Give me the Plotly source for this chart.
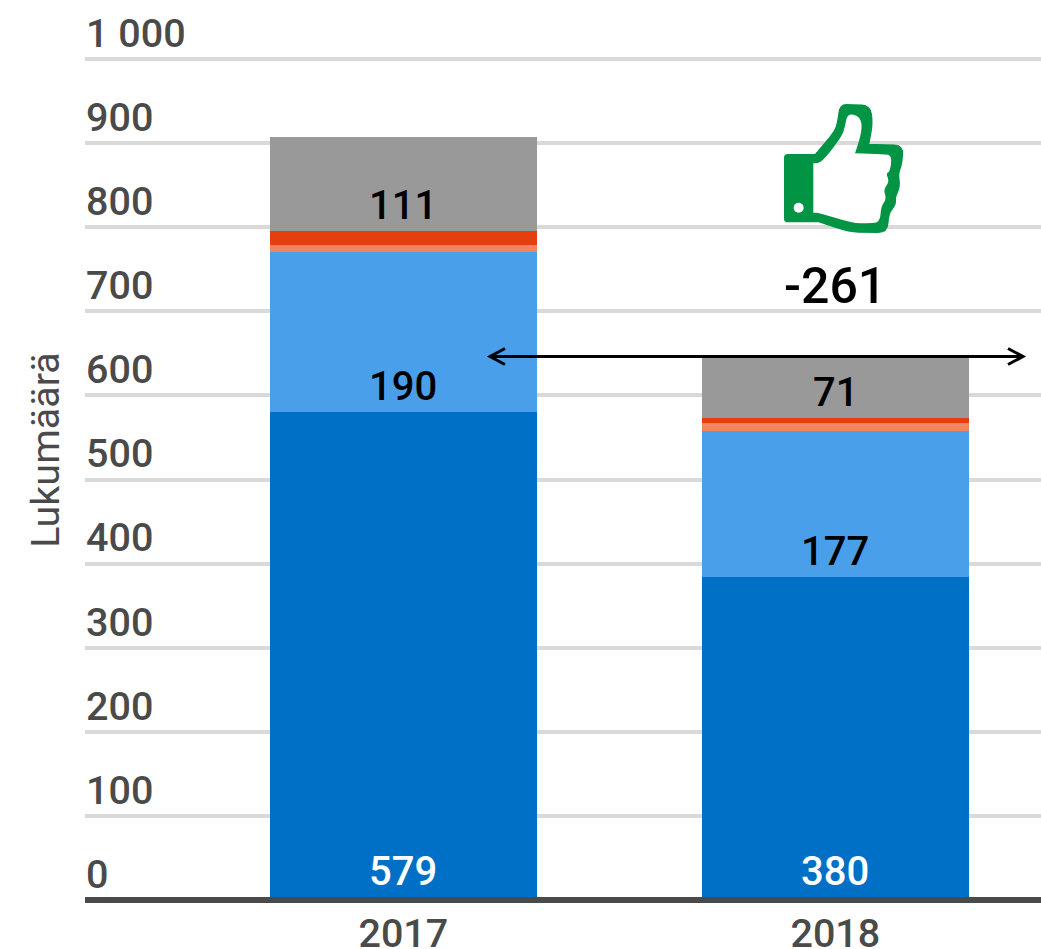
import plotly.graph_objects as go

years = ["2017", "2018"]
seg_a = [580, 384]
seg_b = [191, 174]
seg_c = [8, 9]
seg_d = [16, 6]
seg_e = [112, 73]
label_a = ["579", "380"]
label_b = ["190", "177"]
label_e = ["111", "71"]
series = [seg_a, seg_b, seg_c, seg_d, seg_e]
colors = ["#0070c6", "#4a9fea", "#f08560", "#e63f0f", "#999999"]
labelled = [(0, label_a, "white", 3), (1, label_b, "black", 0.5), (4, label_e, "black", 0.5)]
y_ticks = list(range(0, 1001, 100))
y_text = ["0", "100", "200", "300", "400", "500", "600", "700", "800", "900", "1 000"]
difference = "-261"
diff_level = 644.5
axis_title = "Lukumäärä"

W, H = 1041, 949
L, R, T, B = 85, 0, 0, 49
FONT = "Roboto"
DARK = "#4a4a4a"
GREEN = "#009444"
y_top = (H - B - T) / 0.841

fig = go.Figure()
for vals, col in zip(series, colors):
    fig.add_trace(go.Bar(x=[0, 1], y=vals, marker=dict(color=col, line=dict(width=0)),
                         width=0.618, hoverinfo="skip"))

# value labels sit just above the base of their segment
for idx, texts, col, lift in labelled:
    for i, txt in enumerate(texts):
        base = sum(s[i] for s in series[:idx])
        fig.add_annotation(x=i, y=base, yanchor="bottom", yshift=lift, showarrow=False,
                           text=txt, font=dict(family=FONT, size=40, color=col, weight=500))

fig.add_annotation(x=1, y=diff_level, yanchor="bottom", yshift=41, showarrow=False,
                   text=difference, font=dict(family=FONT, size=50, color="black", weight=500))

# baseline above the bars
shapes = [dict(type="line", xref="paper", yref="paper", x0=0, x1=1, y0=0, y1=0,
               line=dict(color=DARK, width=6), layer="above")]

# double-headed arrow
def px(x, y):
    return (x - L) / (W - L - R), (H - B - y) / (H - B - T)

ay = 356.5
for pts in ([(490, ay), (1023, ay)], [(505, ay - 8), (490, ay), (505, ay + 8)],
            [(1008, ay - 8), (1023, ay), (1008, ay + 8)]):
    path = " ".join(("M" if k == 0 else "L") + "{:.5f},{:.5f}".format(*px(*p)) for k, p in enumerate(pts))
    shapes.append(dict(type="path", xref="paper", yref="paper", path=path,
                       line=dict(color="black", width=3), layer="above"))

# thumb icon, outlined in the crop's own pixel grid (3x, origin 760,90)
outer = [(72, 215), (72, 192), (95, 192), (165, 192), (165, 192), (222, 125), (232, 95), (238, 42), (280, 42), (332, 45),
         (340, 100), (328, 162), (328, 162), (375, 162), (432, 165), (427, 225), (416, 250), (422, 290),
         (407, 320), (409, 345), (387, 370), (384, 430), (320, 428), (270, 428), (175, 397), (175, 397),
         (95, 397), (72, 397), (72, 375)]
inner = [(160, 220), (160, 220), (185, 218), (245, 140), (255, 110), (262, 72), (290, 75), (306, 95), (303, 135), (285, 190),
         (285, 190), (370, 192), (396, 197), (390, 245), (378, 250), (388, 275), (370, 300), (380, 325),
         (363, 350), (360, 398), (320, 400), (280, 400), (175, 368), (160, 368), (160, 368)]

def smooth(points):
    mids = [((points[i][0] + points[(i + 1) % len(points)][0]) / 2,
             (points[i][1] + points[(i + 1) % len(points)][1]) / 2) for i in range(len(points))]
    def c(p):
        return px(760 + p[0] / 3, 90 + p[1] / 3)
    s = "M{:.5f},{:.5f}".format(*c(mids[-1]))
    for i, p in enumerate(points):
        s += " Q{:.5f},{:.5f} {:.5f},{:.5f}".format(*c(p), *c(mids[i]))
    return s + " Z"

shapes.append(dict(type="path", xref="paper", yref="paper", layer="above",
                   path=smooth(outer) + " " + smooth(inner),
                   fillcolor=GREEN, line=dict(width=0)))
cx, cy = px(760 + 116 / 3, 90 + 353 / 3)
rx, ry = 5 / (W - L - R), 5 / (H - B - T)
shapes.append(dict(type="circle", xref="paper", yref="paper", layer="above",
                   x0=cx - rx, x1=cx + rx, y0=cy - ry, y1=cy + ry,
                   fillcolor="white", line=dict(width=0)))

fig.update_layout(
    width=W, height=H, barmode="stack", bargap=0.382, showlegend=False,
    margin=dict(l=L, r=R, t=T, b=B), paper_bgcolor="white", plot_bgcolor="white",
    shapes=shapes,
    xaxis=dict(range=[-0.737, 1.476], tickmode="array", tickvals=[0, 1], ticktext=years,
               showgrid=False, showline=False, zeroline=False, automargin=False,
               ticks="", ticklabelstandoff=6, tickfont=dict(family=FONT, size=39.5, color=DARK, weight=500)),
    yaxis=dict(range=[0, y_top], tickmode="array", tickvals=y_ticks, ticktext=y_text, automargin=False,
               ticks="", ticklabelposition="inside", ticklabelshift=-26, ticklabelstandoff=-2,
               gridcolor="#d9d9d9", gridwidth=3.5, showline=False, zeroline=False,
               tickfont=dict(family=FONT, size=39.5, color=DARK, weight=500),
               title=dict(text=axis_title, standoff=14, font=dict(family=FONT, size=39.5, color=DARK))),
)
fig.write_html("out.html", config={"displayModeBar": False},
               post_script="document.body.style.margin='0';document.documentElement.style.overflow='hidden';")
